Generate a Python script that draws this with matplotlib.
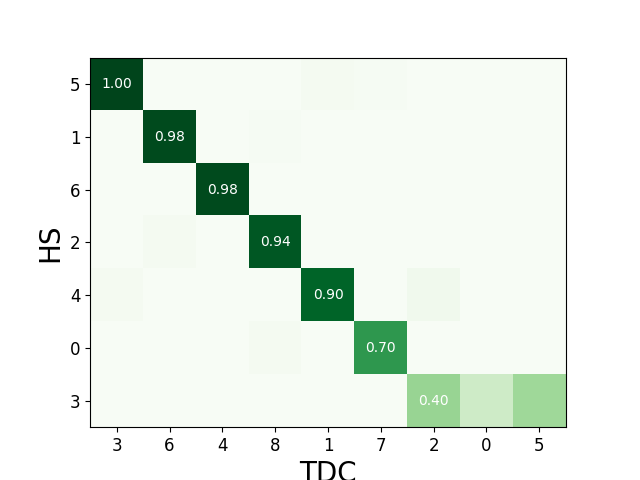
import numpy as np
import matplotlib
matplotlib.use("Agg")
import matplotlib.pyplot as plt

row_labels = ['5', '1', '6', '2', '4', '0', '3']
col_labels = ['3', '6', '4', '8', '1', '7', '2', '0', '5']
values = np.array([
    [1.00, 0.00, 0.00, 0.00, 0.02, 0.01, 0.00, 0.00, 0.00],
    [0.00, 0.98, 0.00, 0.01, 0.00, 0.00, 0.00, 0.00, 0.00],
    [0.00, 0.00, 0.98, 0.00, 0.00, 0.00, 0.00, 0.00, 0.00],
    [0.00, 0.02, 0.00, 0.94, 0.00, 0.00, 0.00, 0.00, 0.00],
    [0.02, 0.00, 0.00, 0.00, 0.90, 0.00, 0.05, 0.00, 0.00],
    [0.00, 0.00, 0.00, 0.02, 0.00, 0.70, 0.00, 0.00, 0.00],
    [0.00, 0.00, 0.00, 0.00, 0.00, 0.00, 0.40, 0.22, 0.38],
])

fig, ax = plt.subplots(figsize=(6.4, 4.8), dpi=100)
ax.imshow(values, cmap='Greens', vmin=0, vmax=1)
for i in range(len(row_labels)):
    ax.text(i, i, f"{values[i, i]:.2f}", ha='center', va='center', color='white', fontsize=10)
ax.set_xticks(range(len(col_labels)))
ax.set_xticklabels(col_labels, fontsize=12)
ax.set_yticks(range(len(row_labels)))
ax.set_yticklabels(row_labels, fontsize=12)
ax.set_xlabel('TDC', fontsize=20)
ax.set_ylabel('HS', fontsize=20)
plt.savefig('out.png', dpi=100)
